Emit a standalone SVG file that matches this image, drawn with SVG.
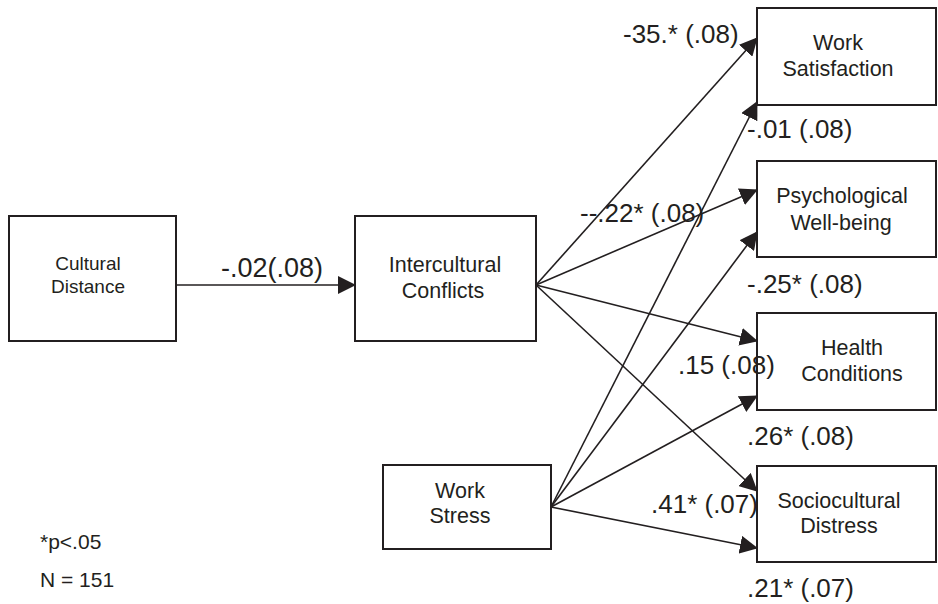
<svg xmlns="http://www.w3.org/2000/svg" width="938" height="604" viewBox="0 0 938 604">
<style>
.box{fill:#fff;stroke:#231f20;stroke-width:2}
.lbl{font-family:"Liberation Sans",Arial,sans-serif;font-size:21.5px;fill:#231f20;text-anchor:middle}
.small{font-size:19px}
.edge{font-family:"Liberation Sans",Arial,sans-serif;font-size:26px;fill:#231f20}
.leg{font-family:"Liberation Sans",Arial,sans-serif;font-size:21px;fill:#231f20}
.con line{stroke:#231f20;stroke-width:1.6;fill:none;marker-end:url(#ah)}
</style>
<defs>
<marker id="ah" markerUnits="userSpaceOnUse" markerWidth="18" markerHeight="18" viewBox="0 0 18 18" refX="17" refY="9" orient="auto">
<path d="M0,0 L18,9 L0,18 Z" fill="#231f20"/>
</marker>
</defs>
<rect width="938" height="604" fill="#fff"/>
<g id="cultural-distance">
<rect class="box" x="9" y="216" width="167" height="125"/>
<text class="lbl small" x="88" y="270">Cultural</text>
<text class="lbl small" x="88" y="293">Distance</text>
</g>
<g id="intercultural-conflicts">
<rect class="box" x="355" y="216" width="181" height="125"/>
<text class="lbl" x="445" y="272">Intercultural</text>
<text class="lbl" x="443" y="298">Conflicts</text>
</g>
<g id="work-stress">
<rect class="box" x="383" y="465" width="168" height="84"/>
<text class="lbl" x="460" y="498">Work</text>
<text class="lbl" x="460" y="523">Stress</text>
</g>
<g id="work-satisfaction">
<rect class="box" x="757" y="8" width="179" height="97"/>
<text class="lbl" x="838" y="50">Work</text>
<text class="lbl" x="838" y="76">Satisfaction</text>
</g>
<g id="psychological-well-being">
<rect class="box" x="757" y="161" width="179" height="96"/>
<text class="lbl" x="842" y="203">Psychological</text>
<text class="lbl" x="841" y="230">Well-being</text>
</g>
<g id="health-conditions">
<rect class="box" x="757" y="313" width="179" height="97"/>
<text class="lbl" x="852" y="355">Health</text>
<text class="lbl" x="852" y="381">Conditions</text>
</g>
<g id="sociocultural-distress">
<rect class="box" x="757" y="466" width="179" height="96"/>
<text class="lbl" x="839" y="508">Sociocultural</text>
<text class="lbl" x="839" y="533">Distress</text>
</g>
<g id="connectors" class="con">
<line x1="176" y1="285" x2="355" y2="285"/>
<line x1="536" y1="285" x2="757" y2="38"/>
<line x1="536" y1="285" x2="757" y2="190"/>
<line x1="536" y1="285" x2="757" y2="341"/>
<line x1="536" y1="285" x2="757" y2="491"/>
<line x1="551" y1="507" x2="757" y2="102"/>
<line x1="551" y1="507" x2="757" y2="232"/>
<line x1="551" y1="507" x2="757" y2="396"/>
<line x1="551" y1="507" x2="757" y2="548"/>
</g>
<g id="edge-labels">
<text class="edge" x="221" y="277" style="font-size:27px">-.02(.08)</text>
<text class="edge" x="623" y="43">-35.* (.08)</text>
<text class="edge" x="747" y="138">-.01 (.08)</text>
<text class="edge" x="580" y="222">--.22* (.08)</text>
<text class="edge" x="747" y="293">-.25* (.08)</text>
<text class="edge" x="678" y="374">.15 (.08)</text>
<text class="edge" x="747" y="445">.26* (.08)</text>
<text class="edge" x="651" y="513">.41* (.07)</text>
<text class="edge" x="747" y="597">.21* (.07)</text>
</g>
<g id="legend">
<text class="leg" x="40" y="549">*p&lt;.05</text>
<text class="leg" x="40" y="587">N = 151</text>
</g>
</svg>
